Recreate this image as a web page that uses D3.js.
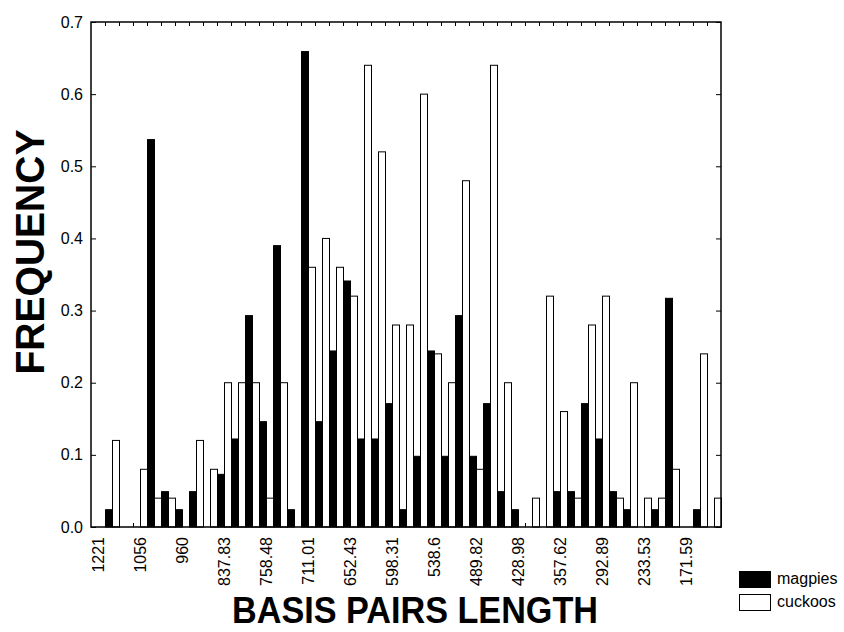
<!DOCTYPE html>
<html>
<head>
<meta charset="utf-8">
<script src="https://cdn.jsdelivr.net/npm/d3@7"></script>
<style>
  body { margin: 0; background: #fff; }
  svg { display: block; }
</style>
</head>
<body>
<svg id="chart" width="844" height="632"></svg>
<script>
// category index (45 classes of basis pairs length), labels shown every 3rd class
const categories = d3.range(45);
const tickLabels = ["1221", "1056", "960", "837.83", "758.48", "711.01", "652.43", "598.31",
                    "538.6", "489.82", "428.98", "357.62", "292.89", "233.53", "171.59"];
const labelEvery = 3;

const magpies = [0, 0.024, 0, 0, 0.537, 0.049, 0.024, 0.049, 0, 0.073,
                 0.122, 0.293, 0.146, 0.39, 0.024, 0.659, 0.146, 0.244, 0.341, 0.122,
                 0.122, 0.171, 0.024, 0.098, 0.244, 0.098, 0.293, 0.098, 0.171, 0.049,
                 0.024, 0, 0, 0.049, 0.049, 0.171, 0.122, 0.049, 0.024, 0,
                 0.024, 0.317, 0, 0.024, 0];
const cuckoos = [0, 0.12, 0, 0.08, 0.04, 0.04, 0, 0.12, 0.08, 0.2,
                 0.2, 0.2, 0.04, 0.2, 0, 0.36, 0.4, 0.36, 0.32, 0.64,
                 0.52, 0.28, 0.28, 0.6, 0.24, 0.2, 0.48, 0.08, 0.64, 0.2,
                 0, 0.04, 0.32, 0.16, 0.04, 0.28, 0.32, 0.04, 0.2, 0.04,
                 0.04, 0.08, 0, 0.24, 0.04];
const seriesNames = ["magpies", "cuckoos"];
const seriesFill = ["#000000", "#ffffff"];
const yTicks = [0, 0.1, 0.2, 0.3, 0.4, 0.5, 0.6, 0.7];

// plot box
const plot = { left: 91, right: 721, top: 22, bottom: 527 };
const font = "Arial, 'Liberation Sans', sans-serif";

const svg = d3.select("#chart");

const x = d3.scaleBand()
    .domain(categories)
    .range([plot.left, plot.right])
    .padding(0);

const xSub = d3.scaleBand()
    .domain(seriesNames)
    .range([0, x.bandwidth()]);

// linear version of x, for ticks on class boundaries
const xEdge = d3.scaleLinear()
    .domain([0, categories.length])
    .range([plot.left, plot.right]);

const y = d3.scaleLinear()
    .domain([0, 0.7])
    .range([plot.bottom, plot.top]);

// bars
const rows = categories.map((c, i) => ({ c: c, values: [magpies[i], cuckoos[i]] }));

const groups = svg.append("g").selectAll("g")
    .data(rows)
    .enter().append("g")
    .attr("transform", d => "translate(" + x(d.c) + ",0)");

groups.selectAll("rect")
    .data(d => d.values.map((v, j) => ({ key: seriesNames[j], v: v, j: j })))
    .enter().append("rect")
    .attr("x", d => xSub(d.key) + 0.5)
    .attr("y", d => y(d.v))
    .attr("width", xSub.bandwidth())
    .attr("height", d => y(0) - y(d.v))
    .attr("fill", d => seriesFill[d.j])
    .attr("stroke", "#000")
    .attr("stroke-width", 1);

// frame
svg.append("rect")
    .attr("x", plot.left)
    .attr("y", plot.top)
    .attr("width", plot.right - plot.left)
    .attr("height", plot.bottom - plot.top)
    .attr("fill", "none")
    .attr("stroke", "#000")
    .attr("stroke-width", 1.5);

// inward ticks, top and bottom, on class boundaries
const edgeTicks = d3.range(1, categories.length);
svg.append("g")
    .attr("transform", "translate(0," + plot.bottom + ")")
    .call(d3.axisBottom(xEdge).tickValues(edgeTicks).tickSize(-4).tickFormat(""))
    .call(g => g.select(".domain").remove());
svg.append("g")
    .attr("transform", "translate(0," + plot.top + ")")
    .call(d3.axisTop(xEdge).tickValues(edgeTicks).tickSize(-4).tickFormat(""))
    .call(g => g.select(".domain").remove());

// y axis left with labels, right with ticks only
svg.append("g")
    .attr("transform", "translate(" + plot.left + ",0)")
    .call(d3.axisLeft(y).tickValues(yTicks).tickSizeInner(-5).tickSizeOuter(0)
        .tickPadding(8).tickFormat(d3.format(".1f")))
    .call(g => g.select(".domain").remove())
    .call(g => g.selectAll("text").attr("font-size", 16).attr("font-family", font).attr("fill", "#000"));
svg.append("g")
    .attr("transform", "translate(" + plot.right + ",0)")
    .call(d3.axisRight(y).tickValues(yTicks).tickSizeInner(-5).tickSizeOuter(0).tickFormat(""))
    .call(g => g.select(".domain").remove());

// rotated class labels
const labelIdx = tickLabels.map((t, i) => i * labelEvery);
svg.append("g")
    .attr("transform", "translate(0," + plot.bottom + ")")
    .call(d3.axisBottom(x).tickValues(labelIdx).tickSize(0).tickPadding(0)
        .tickFormat(i => tickLabels[i / labelEvery]))
    .call(g => g.select(".domain").remove())
    .call(g => g.selectAll("text")
        .attr("font-size", 16)
        .attr("font-family", font)
        .attr("fill", "#000")
        .attr("text-anchor", "end")
        .attr("transform", "rotate(-90)")
        .attr("x", -10)
        .attr("y", 0)
        .attr("dy", "0.35em"));

// axis titles
svg.append("text")
    .attr("transform", "translate(44,252) rotate(-90)")
    .attr("text-anchor", "middle")
    .attr("font-family", font)
    .attr("font-weight", "bold")
    .attr("font-size", 40)
    .attr("textLength", 245)
    .attr("lengthAdjust", "spacingAndGlyphs")
    .text("FREQUENCY");

svg.append("text")
    .attr("x", 415)
    .attr("y", 623)
    .attr("text-anchor", "middle")
    .attr("font-family", font)
    .attr("font-weight", "bold")
    .attr("font-size", 36)
    .attr("textLength", 366)
    .attr("lengthAdjust", "spacingAndGlyphs")
    .text("BASIS PAIRS LENGTH");

// legend
const legend = svg.append("g").attr("transform", "translate(739,571)");
legend.selectAll("rect")
    .data(seriesNames)
    .enter().append("rect")
    .attr("x", 0.5)
    .attr("y", (d, i) => i * 23 + 0.5)
    .attr("width", 31)
    .attr("height", 16)
    .attr("fill", (d, i) => seriesFill[i])
    .attr("stroke", "#000");
legend.selectAll("text")
    .data(seriesNames)
    .enter().append("text")
    .attr("x", 38)
    .attr("y", (d, i) => i * 23 + 13)
    .attr("font-family", font)
    .attr("font-size", 16)
    .text(d => d);
</script>
</body>
</html>
